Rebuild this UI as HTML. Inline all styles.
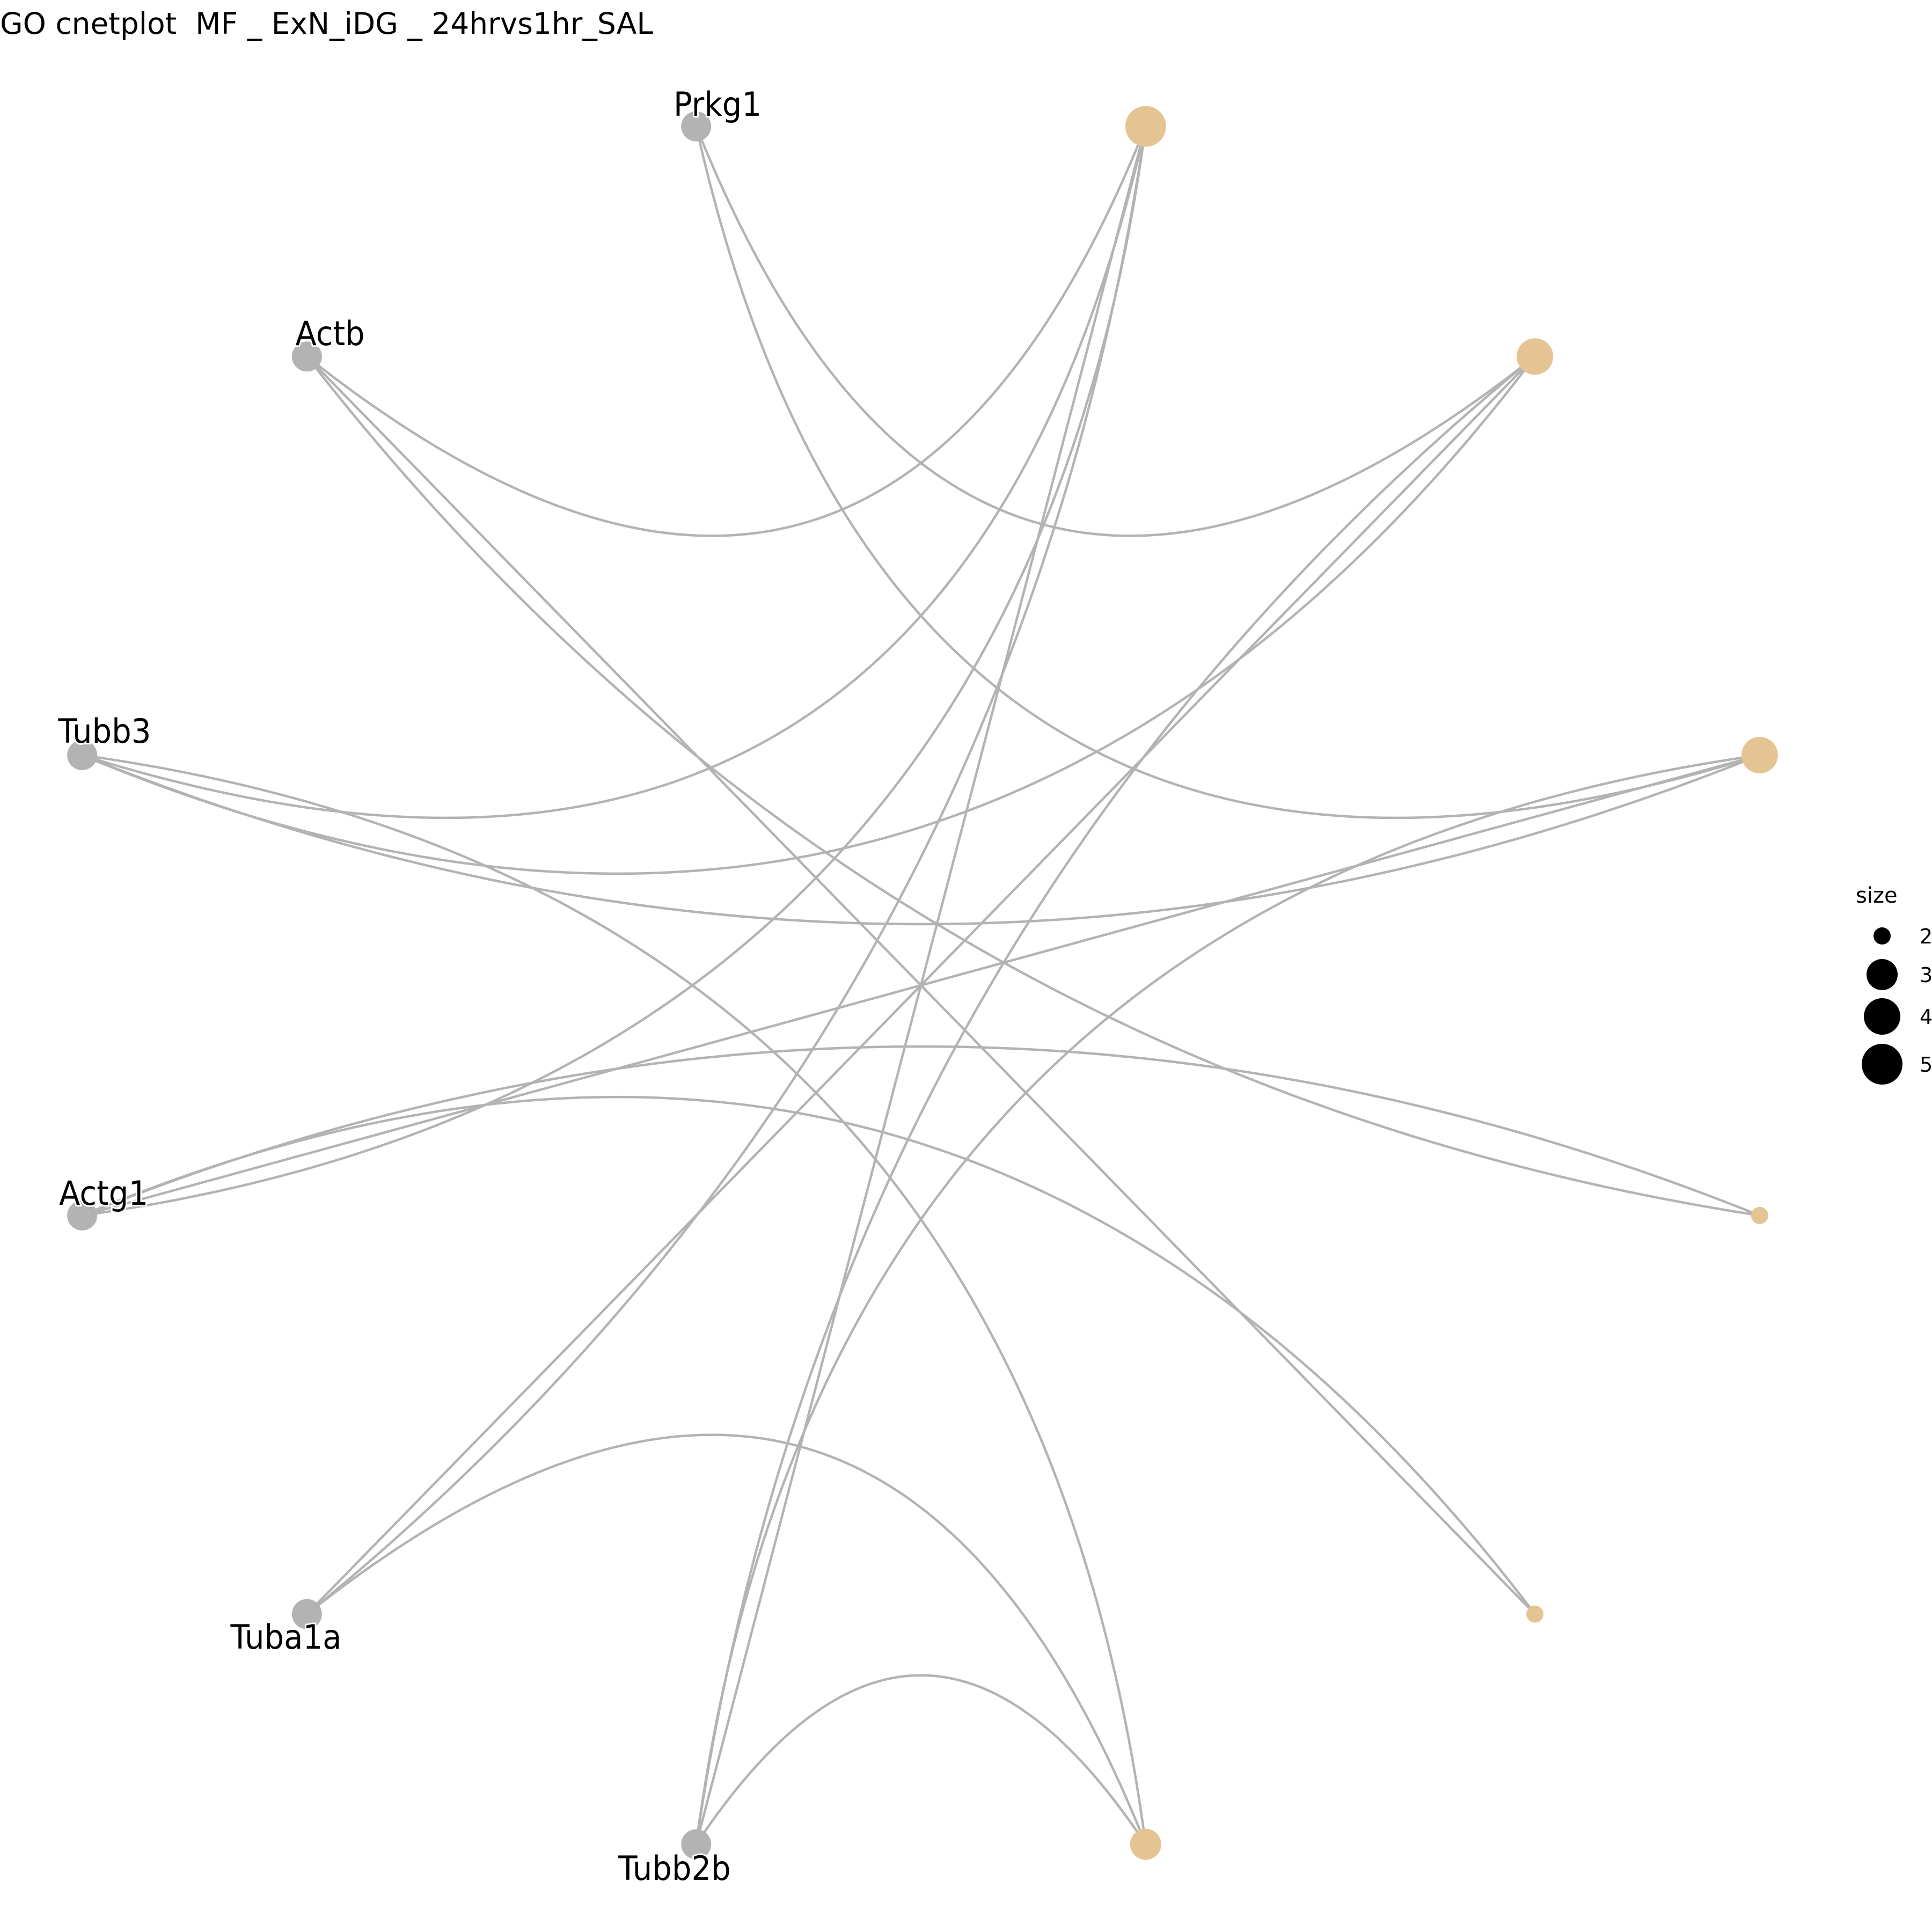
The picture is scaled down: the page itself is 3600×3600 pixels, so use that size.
<!DOCTYPE html>
<html><head><meta charset="utf-8"><style>
html,body{margin:0;padding:0;background:#fff}
svg{display:block}
text{font-family:"DejaVu Sans","Liberation Sans",sans-serif}
</style></head><body>
<svg id="chart" width="3600" height="3600" viewBox="0 0 3600 3600" xmlns="http://www.w3.org/2000/svg">
<rect width="3600" height="3600" fill="#fff"/>
<text id="title" x="0" y="63" font-size="55" fill="#000" xml:space="preserve" style="white-space:pre" textLength="1217" lengthAdjust="spacingAndGlyphs">GO cnetplot  MF _ ExN_iDG _ 24hrvs1hr_SAL</text>
<g id="edges"></g>
<g id="nodes"></g>
<g id="labels"></g>
<g id="legend">
<text x="3458" y="1682" font-size="40" fill="#000">size</text>
</g>
</svg>
<script>
// circular layout order (angles step 30 deg, starting at 105 deg for Prkg1, counter-clockwise)
const nodeNames = ["Prkg1","Actb","Tubb3","Actg1","Tuba1a","Tubb2b","C6","C5","C4","C3","C2","C1"];
const nodeIsGene = [1,1,1,1,1,1,0,0,0,0,0,0];
const categorySize = {C1:5, C2:4, C3:4, C4:2, C5:2, C6:3};
const edgeFrom = ["C1","C1","C1","C1","C1","C2","C2","C2","C2","C3","C3","C3","C3","C4","C4","C5","C5","C6","C6","C6"];
const edgeTo   = ["Actb","Tubb3","Actg1","Tuba1a","Tubb2b","Prkg1","Tubb3","Tuba1a","Tubb2b","Prkg1","Tubb3","Actg1","Tubb2b","Actb","Actg1","Actb","Actg1","Tubb3","Tuba1a","Tubb2b"];
const legendSizes = [2,3,4,5];

const NS="http://www.w3.org/2000/svg";
const CX=1716, CY=1836, RX=1618, RY=1657;
const startAngle=105, step=30, SAG=0.38;
function ang(i){return (startAngle+step*i)*Math.PI/180;}
function unit(name){const i=nodeNames.indexOf(name);const a=ang(i);return [Math.cos(a),Math.sin(a)];}
function px(u){return [CX+RX*u[0], CY-RY*u[1]];}
function sizeR(s){return {2:16,3:29,4:34,5:38}[s] || (10+7*s);}

const eg=document.getElementById('edges');
for(let k=0;k<edgeFrom.length;k++){
  const p1=unit(edgeFrom[k]), p2=unit(edgeTo[k]);
  const a1=Math.atan2(p1[1],p1[0]), a2=Math.atan2(p2[1],p2[0]);
  let d=a2-a1; while(d>Math.PI)d-=2*Math.PI; while(d<-Math.PI)d+=2*Math.PI;
  const th=Math.abs(d);
  const mid=[(p1[0]+p2[0])/2,(p1[1]+p2[1])/2];
  const ml=Math.hypot(mid[0],mid[1]);
  const sag=SAG*Math.sin(th);
  let ctrl=mid;
  if(ml>1e-6){ctrl=[mid[0]-mid[0]/ml*2*sag, mid[1]-mid[1]/ml*2*sag];}
  const pts=[];
  const N=120;
  for(let j=0;j<=N;j++){const t=j/N;
    const u=[(1-t)*(1-t)*p1[0]+2*t*(1-t)*ctrl[0]+t*t*p2[0],(1-t)*(1-t)*p1[1]+2*t*(1-t)*ctrl[1]+t*t*p2[1]];
    pts.push(px(u));}
  const pl=document.createElementNS(NS,'polyline');
  pl.setAttribute('points',pts.map(p=>p[0].toFixed(1)+','+p[1].toFixed(1)).join(' '));
  pl.setAttribute('fill','none');pl.setAttribute('stroke','#b3b3b3');pl.setAttribute('stroke-width','4.5');
  
  
  eg.appendChild(pl);
}
const ng=document.getElementById('nodes');
nodeNames.forEach((n,i)=>{
  const p=px(unit(n));
  const c=document.createElementNS(NS,'circle');
  c.setAttribute('cx',p[0]);c.setAttribute('cy',p[1]);
  c.setAttribute('r', nodeIsGene[i]?28:sizeR(categorySize[n]));
  c.setAttribute('fill', nodeIsGene[i]?'#b3b3b3':'#e5c494');
  
  
  ng.appendChild(c);
});
const labelText=["Prkg1","Actb","Tubb3","Actg1","Tuba1a","Tubb2b"];
const labelX=[1337,615,195,193,533,1257];
const labelY=[216,643,1384,2245,3072,3503];
const lg=document.getElementById('labels');
labelText.forEach((t,i)=>{
  const tx=document.createElementNS(NS,'text');
  tx.textContent=t;
  tx.setAttribute('x',labelX[i]);tx.setAttribute('y',labelY[i]);
  tx.setAttribute('text-anchor','middle');tx.setAttribute('font-size','62');
  tx.setAttribute('fill','#000');tx.setAttribute('stroke','#fff');tx.setAttribute('stroke-width','6');
  tx.setAttribute('paint-order','stroke');
  
  
  lg.appendChild(tx);
  const w=tx.getComputedTextLength();
  tx.setAttribute('textLength',(w*0.93).toFixed(1));tx.setAttribute('lengthAdjust','spacingAndGlyphs');
});
const leg=document.getElementById('legend');
const legY=[1744,1816,1894,1983];
legendSizes.forEach((s,i)=>{
  const c=document.createElementNS(NS,'circle');
  c.setAttribute('cx',3507);c.setAttribute('cy',legY[i]);c.setAttribute('r',sizeR(s));c.setAttribute('fill','#000');
  
  
  leg.appendChild(c);
  const t=document.createElementNS(NS,'text');
  t.textContent=s;t.setAttribute('x',3577);t.setAttribute('y',legY[i]+14);t.setAttribute('font-size','38');
  
  
  leg.appendChild(t);
});
</script>
</body></html>
